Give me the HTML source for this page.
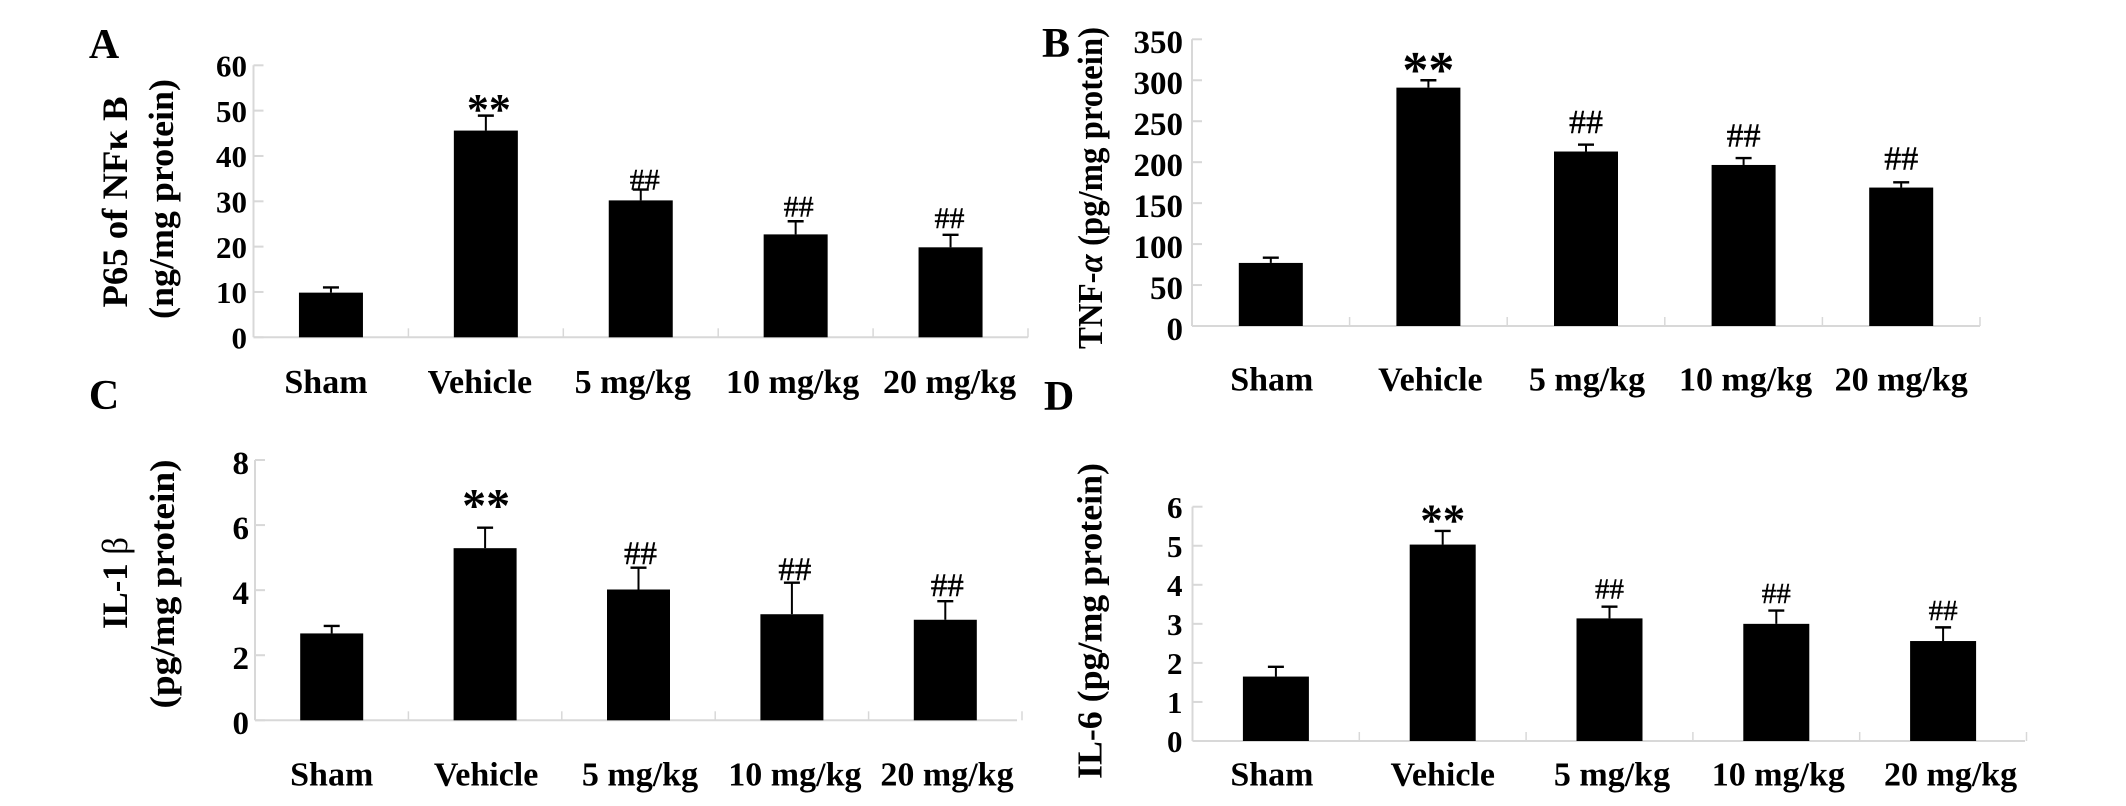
<!DOCTYPE html>
<html lang="en">
<head>
<meta charset="utf-8">
<title>Cytokine levels by treatment group</title>
<style>
html,body{margin:0;padding:0;background:#fff;width:2126px;height:806px;overflow:hidden}
svg{display:block}
text{font-family:"Liberation Serif","Noto Serif CJK SC",serif;fill:#000}
</style>
</head>
<body>
<svg id="figure" xmlns="http://www.w3.org/2000/svg" width="2126" height="806" viewBox="0 0 2126 806"></svg>
<script>
// Shared categories and significance labels
const categories = ['Sham', 'Vehicle', '5 mg/kg', '10 mg/kg', '20 mg/kg'];
const sigLabels = ['', '**', '##', '##', '##'];

// Panel A
const p65Values = [9.85, 45.6, 30.2, 22.7, 19.85];
const p65Errors = [1.15, 3.3, 2.4, 2.9, 2.75];
const p65Ticks = [0, 10, 20, 30, 40, 50, 60];

// Panel B
const tnfValues = [77, 291, 213, 196.6, 169];
const tnfErrors = [6.4, 9, 8.4, 8.4, 6.4];
const tnfTicks = [0, 50, 100, 150, 200, 250, 300, 350];

// Panel C
const il1Values = [2.67, 5.29, 4.02, 3.26, 3.09];
const il1Errors = [0.23, 0.63, 0.67, 0.97, 0.57];
const il1Ticks = [0, 2, 4, 6, 8];

// Panel D
const il6Values = [1.65, 5.03, 3.14, 3.0, 2.56];
const il6Errors = [0.25, 0.35, 0.30, 0.34, 0.35];
const il6Ticks = [0, 1, 2, 3, 4, 5, 6];

const SVG_NS = 'http://www.w3.org/2000/svg';
const figure = document.getElementById('figure');

function shape(parent, tag, attrs, content) {
  const node = document.createElementNS(SVG_NS, tag);
  for (const key in attrs) node.setAttribute(key, attrs[key]);
  if (content !== undefined) node.textContent = content;
  parent.appendChild(node);
  return node;
}

function drawPanel(cfg) {
  const group = shape(figure, 'g', {});
  
  

  const yScale = v => cfg.yBase - (v / cfg.yMax) * (cfg.yBase - cfg.yTop);
  const band = (cfg.x1 - cfg.x0) / cfg.values.length;
  const xCenter = i => cfg.x0 + band * (i + 0.5);

  const letter = shape(group, 'text', {x: cfg.letterX, y: cfg.letterY, 'font-size': 42, 'font-weight': 'bold', 'text-anchor': 'middle'}, cfg.letter);
  
  

  const yAxis = shape(group, 'line', {x1: cfg.x0, x2: cfg.x0, y1: yScale(cfg.yMax), y2: cfg.yBase, stroke: '#d8d8d8', 'stroke-width': 2});
  
  

  const xAxis = shape(group, 'line', {x1: cfg.x0, x2: cfg.xLineEnd, y1: cfg.yBase, y2: cfg.yBase, stroke: '#d8d8d8', 'stroke-width': 2});
  
  

  cfg.ticks.forEach(t => {
    const y = yScale(t);
    const tick = shape(group, 'line', {x1: cfg.x0, x2: cfg.x0 + 10, y1: y, y2: y, stroke: '#d8d8d8', 'stroke-width': 2});
    
    
    const label = shape(group, 'text', {x: cfg.tickRight, y: y + cfg.tickDy + cfg.tickFont * 0.33, 'font-size': cfg.tickFont, 'font-weight': 'bold', 'text-anchor': 'end'}, String(t));
    
    
  });

  for (let i = 1; i <= cfg.values.length; i++) {
    const x = cfg.x0 + band * i;
    const sep = shape(group, 'line', {x1: x, x2: x, y1: cfg.yBase - 9, y2: cfg.yBase, stroke: '#d8d8d8', 'stroke-width': 1.5});
    
    
  }

  cfg.values.forEach((v, i) => {
    const cx = xCenter(i);
    const top = yScale(v);
    const capY = yScale(v + cfg.errors[i]);

    const stem = shape(group, 'line', {x1: cx, x2: cx, y1: top, y2: capY, stroke: '#000', 'stroke-width': 2});
    
    

    const cap = shape(group, 'line', {x1: cx - 8, x2: cx + 8, y1: capY, y2: capY, stroke: '#000', 'stroke-width': 2.4});
    
    

    const bar = shape(group, 'rect', {x: cx - cfg.barWidth / 2, y: top, width: cfg.barWidth, height: cfg.yBase - top, fill: '#000'});
    
    

    const sig = sigLabels[i];
    if (sig === '**') {
      const stars = shape(group, 'text', {x: cx + cfg.sigShift[i], y: capY - cfg.sigGap[i] + cfg.starFont * 0.28, 'font-size': cfg.starFont, 'font-weight': 'bold', 'text-anchor': 'middle'}, sig);
      
      
    } else if (sig === '##') {
      const hashes = shape(group, 'text', {x: cx + cfg.sigShift[i], y: capY - cfg.sigGap[i], 'font-size': cfg.hashFont, 'text-anchor': 'middle', stroke: '#000', 'stroke-width': 0.4}, sig);
      
      
    }

    const catLabel = shape(group, 'text', {x: cx + cfg.labelShift[i], y: cfg.labelY, 'font-size': 34, 'font-weight': 'bold', 'text-anchor': 'middle'}, categories[i]);
    
    
  });

  cfg.titles.forEach(t => {
    const title = shape(group, 'text', {
      transform: 'translate(' + t.x + ',' + t.y + ') rotate(-90)',
      'font-size': t.font, 'font-weight': 'bold', 'text-anchor': 'middle',
      textLength: t.length, lengthAdjust: 'spacingAndGlyphs'
    });
    
    
    t.parts.forEach(p => {
      const span = shape(title, 'tspan', p.style || {}, p.text);
      
      
    });
  });
}

drawPanel({
  name: 'panel-a-p65', letter: 'A', letterX: 104, letterY: 58,
  values: p65Values, errors: p65Errors, ticks: p65Ticks, yMax: 60,
  x0: 253.5, x1: 1028, xLineEnd: 1028, yBase: 337.3, yTop: 65.3, barWidth: 64,
  tickRight: 247, tickFont: 31, tickDy: 1,
  labelY: 393, labelShift: [-5, -6, -8, -3, -1],
  starFont: 44, hashFont: 30,
  sigGap: [0, 4, 0, 4.7, 7], sigShift: [0, 3, 4, 3, -1],
  titles: [
    {x: 127, y: 202, font: 36, length: 211, parts: [{text: 'P65 of NFκ B'}]},
    {x: 173, y: 199, font: 35, length: 240, parts: [{text: '(ng/mg protein)'}]}
  ]
});

drawPanel({
  name: 'panel-b-tnf-alpha', letter: 'B', letterX: 1056, letterY: 57,
  values: tnfValues, errors: tnfErrors, ticks: tnfTicks, yMax: 350,
  x0: 1192, x1: 1980, xLineEnd: 1980, yBase: 326, yTop: 39.3, barWidth: 64,
  tickRight: 1183, tickFont: 33, tickDy: 3,
  labelY: 390.7, labelShift: [1, 2, 1, 2, 0],
  starFont: 52, hashFont: 34,
  sigGap: [0, 7.7, 11.4, 11.4, 13], sigShift: [0, 0, 0, 0, 0],
  titles: [
    {x: 1102, y: 188, font: 35, length: 322, parts: [{text: 'TNF-'}, {text: 'α', style: {'font-style': 'italic'}}, {text: ' (pg/mg protein)'}]}
  ]
});

drawPanel({
  name: 'panel-c-il-1-beta', letter: 'C', letterX: 104, letterY: 409,
  values: il1Values, errors: il1Errors, ticks: il1Ticks, yMax: 8,
  x0: 255, x1: 1022, xLineEnd: 1017, yBase: 720.3, yTop: 460, barWidth: 63,
  tickRight: 249, tickFont: 33, tickDy: 3,
  labelY: 785.7, labelShift: [0, 1, 1.5, 3, 1.7],
  starFont: 48, hashFont: 33,
  sigGap: [0, 19.5, 3.7, 2.7, 5.4], sigShift: [0, 1, 2, 3, 2],
  titles: [
    {x: 127, y: 583, font: 36, length: 92, parts: [{text: 'IL-1'}, {text: ' β', style: {'font-weight': 'normal'}}]},
    {x: 174, y: 584, font: 35, length: 249, parts: [{text: '(pg/mg protein)'}]}
  ]
});

drawPanel({
  name: 'panel-d-il-6', letter: 'D', letterX: 1059, letterY: 410,
  values: il6Values, errors: il6Errors, ticks: il6Ticks, yMax: 6,
  x0: 1192.5, x1: 2026.5, xLineEnd: 2025, yBase: 741, yTop: 506.7, barWidth: 66,
  tickRight: 1182.5, tickFont: 31, tickDy: 1,
  labelY: 785.7, labelShift: [-4, 0, 2.5, 2, 7.5],
  starFont: 45, hashFont: 29,
  sigGap: [0, 8, 8.4, 7.7, 7.4], sigShift: [0, 0, 0, 0, 0],
  titles: [
    {x: 1101.5, y: 621, font: 35, length: 316, parts: [{text: 'IL-6 (pg/mg protein)'}]}
  ]
});
</script>
</body>
</html>
